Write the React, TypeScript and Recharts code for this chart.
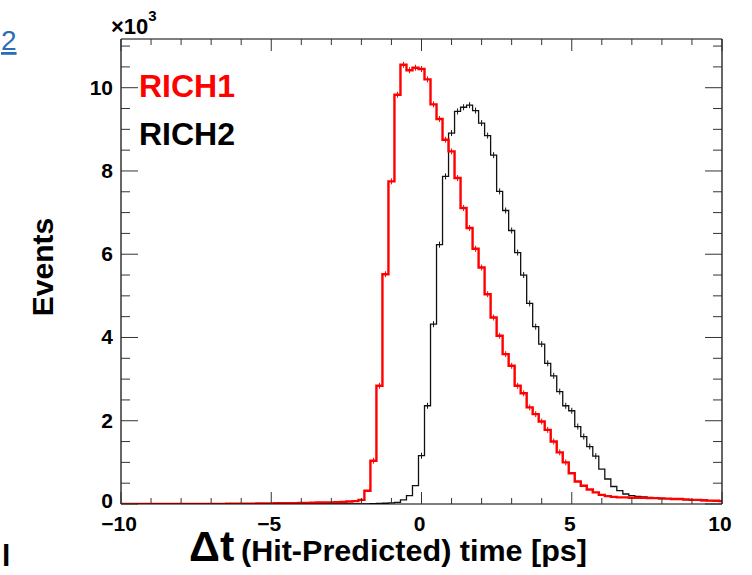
import React from 'react';
import { ComposedChart, Line, Scatter, XAxis, YAxis } from 'recharts';

// Histogram binning (bin lower edges start here, 0.2 ps wide)
const BIN_START = -10.1;
const BIN_WIDTH = 0.2;

// RICH1 counts per bin, in units of 10^3 events
const rich1Counts = [
  0, 0, 0, 0, 0, 0, 0, 0, 0, 0,
  0, 0, 0, 0, 0, 0, 0, 0, 0.005, 0.005,
  0.01, 0.01, 0.01, 0.012, 0.015, 0.015, 0.018, 0.02, 0.02, 0.022,
  0.025, 0.028, 0.03, 0.035, 0.04, 0.04, 0.045, 0.05, 0.06, 0.07,
  0.1, 0.32, 1.04, 2.84, 5.52, 7.75, 9.83, 10.55, 10.42, 10.48,
  10.45, 10.2, 9.6, 9.25, 8.75, 8.47, 7.83, 7.11, 6.63, 6.13,
  5.68, 5.04, 4.48, 4.04, 3.6, 3.32, 2.84, 2.66, 2.32, 2.16,
  1.98, 1.78, 1.5, 1.24, 1.0, 0.74, 0.54, 0.44, 0.35, 0.28,
  0.22, 0.19, 0.17, 0.16, 0.16, 0.15, 0.15, 0.15, 0.14, 0.14,
  0.13, 0.13, 0.12, 0.12, 0.11, 0.1, 0.1, 0.09, 0.08, 0.08, 0.07,
];

// RICH2 counts per bin, in units of 10^3 events
const rich2Counts = [
  0, 0, 0, 0, 0, 0, 0, 0, 0, 0,
  0, 0, 0, 0, 0, 0, 0, 0, 0, 0,
  0, 0, 0, 0, 0, 0, 0, 0, 0, 0,
  0, 0, 0, 0, 0, 0, 0, 0, 0, 0.002,
  0.003, 0.005, 0.008, 0.012, 0.018, 0.025, 0.04, 0.1, 0.2, 0.44,
  1.16, 2.36, 4.32, 6.23, 7.87, 8.91, 9.43, 9.53, 9.58, 9.45,
  9.15, 8.85, 8.38, 7.51, 7.05, 6.57, 6.04, 5.5, 4.82, 4.26,
  3.84, 3.38, 3.08, 2.7, 2.36, 2.24, 1.86, 1.62, 1.38, 1.15,
  0.84, 0.6, 0.42, 0.32, 0.24, 0.2, 0.18, 0.17, 0.16, 0.15,
  0.14, 0.13, 0.12, 0.11, 0.1, 0.1, 0.09, 0.08, 0.08, 0.07, 0.07,
];

const X_DOMAIN: [number, number] = [-10, 10];
const Y_DOMAIN: [number, number] = [0, 11.17];

const xTicks = [-10, -9, -8, -7, -6, -5, -4, -3, -2, -1, 0, 1, 2, 3, 4, 5, 6, 7, 8, 9, 10];
const xMajorTicks = [-10, -5, 0, 5, 10];
const xTickLabels: Record<string, string> = { '-10': '\u221210', '-5': '\u22125', '0': '0', '5': '5', '10': '10' };

const yTicks = [0, 0.5, 1, 1.5, 2, 2.5, 3, 3.5, 4, 4.5, 5, 5.5, 6, 6.5, 7, 7.5, 8, 8.5, 9, 9.5, 10, 10.5, 11];
const yMajorTicks = [0, 2, 4, 6, 8, 10];
const yTickLabels: Record<string, string> = { '0': '0', '2': '2', '4': '4', '6': '6', '8': '8', '10': '10' };

const seriesNames = ['RICH1', 'RICH2'];

const FONT = '"Liberation Sans", Arial, Helvetica, sans-serif';

const round1 = (v: number) => Math.round(v * 100) / 100;

function toSteps(vals: number[]) {
  const pts = vals.map((v, i) => ({ x: round1(BIN_START + i * BIN_WIDTH), y: v }));
  pts.push({ x: round1(BIN_START + vals.length * BIN_WIDTH), y: vals[vals.length - 1] });
  return pts;
}

function toCentres(vals: number[]) {
  return vals
    .map((v, i) => ({ x: round1(BIN_START + (i + 0.5) * BIN_WIDTH), y: v }))
    .filter((p) => p.y >= 1);
}

const rich1Steps = toSteps(rich1Counts);
const rich2Steps = toSteps(rich2Counts);
const rich1Centres = toCentres(rich1Counts);
const rich2Centres = toCentres(rich2Counts);

const TICK_COLOR = '#333';

const BottomTick = (p: any) => {
  const v = p.payload.value;
  const major = xMajorTicks.includes(v);
  return (
    <g>
      <line x1={p.x} x2={p.x} y1={p.y} y2={p.y - (major ? 12 : 6)} stroke={TICK_COLOR} strokeWidth={1} />
      {major && (
        <text x={p.x - 2} y={p.y + 27} textAnchor="middle" fontFamily={FONT} fontWeight="bold" fontSize={21} fill="#000">
          {xTickLabels[String(v)]}
        </text>
      )}
    </g>
  );
};

const TopTick = (p: any) => {
  const v = p.payload.value;
  const major = xMajorTicks.includes(v);
  return <line x1={p.x} x2={p.x} y1={p.y} y2={p.y + (major ? 12 : 6)} stroke={TICK_COLOR} strokeWidth={1} />;
};

const LeftTick = (p: any) => {
  const v = p.payload.value;
  const major = yMajorTicks.includes(v);
  return (
    <g>
      <line x1={p.x} x2={p.x + (major ? 17 : 9)} y1={p.y} y2={p.y} stroke={TICK_COLOR} strokeWidth={1} />
      {major && (
        <text x={p.x - 8} y={p.y + (v === 0 ? 4 : 7)} textAnchor="end" fontFamily={FONT} fontWeight="bold" fontSize={21} fill="#000">
          {yTickLabels[String(v)]}
        </text>
      )}
    </g>
  );
};

const RightTick = (p: any) => {
  const v = p.payload.value;
  const major = yMajorTicks.includes(v);
  return <line x1={p.x} x2={p.x - (major ? 17 : 9)} y1={p.y} y2={p.y} stroke={TICK_COLOR} strokeWidth={1} />;
};

const makeCross = (color: string) => (props: any) => {
  const { cx, cy } = props;
  if (cx == null || cy == null) return <g />;
  return <line x1={cx} x2={cx} y1={cy - 3} y2={cy + 3} stroke={color} strokeWidth={1} />;
};

export default function App() {
  return (
    <div style={{ position: 'absolute', left: 0, top: 0, width: 752, height: 575, background: '#fff' }}>
      <ComposedChart width={752} height={575} margin={{ top: 0, right: 0, bottom: 0, left: 0 }}>
        <XAxis
          xAxisId="b"
          type="number"
          dataKey="x"
          orientation="bottom"
          domain={X_DOMAIN}
          ticks={xTicks}
          interval={0}
          allowDataOverflow
          height={71}
          tickSize={0}
          tickMargin={0}
          tickLine={false}
          axisLine={{ stroke: '#000', strokeWidth: 1.2 }}
          tick={(p: any) => <BottomTick {...p} />}
        />
        <XAxis
          xAxisId="t"
          type="number"
          dataKey="x"
          orientation="top"
          domain={X_DOMAIN}
          ticks={xTicks}
          interval={0}
          allowDataOverflow
          height={39}
          tickSize={0}
          tickMargin={0}
          tickLine={false}
          axisLine={{ stroke: '#000', strokeWidth: 1.2 }}
          tick={(p: any) => <TopTick {...p} />}
        />
        <YAxis
          yAxisId="l"
          type="number"
          dataKey="y"
          orientation="left"
          domain={Y_DOMAIN}
          ticks={yTicks}
          interval={0}
          allowDataOverflow
          width={121}
          tickSize={0}
          tickMargin={0}
          tickLine={false}
          axisLine={{ stroke: '#000', strokeWidth: 1.2 }}
          tick={(p: any) => <LeftTick {...p} />}
        />
        <YAxis
          yAxisId="r"
          type="number"
          dataKey="y"
          orientation="right"
          domain={Y_DOMAIN}
          ticks={yTicks}
          interval={0}
          allowDataOverflow
          width={30}
          tickSize={0}
          tickMargin={0}
          tickLine={false}
          axisLine={{ stroke: '#000', strokeWidth: 1.2 }}
          tick={(p: any) => <RightTick {...p} />}
        />
        <Line
          name={seriesNames[1]}
          data={rich2Steps}
          xAxisId="b"
          yAxisId="l"
          dataKey="y"
          type="stepAfter"
          stroke="#111"
          strokeWidth={1.3}
          dot={false}
          activeDot={false}
          isAnimationActive={false}
        />
        <Scatter
          name={seriesNames[1] + ' err'}
          data={rich2Centres}
          xAxisId="b"
          yAxisId="l"
          shape={makeCross('#111')}
          isAnimationActive={false}
        />
        <Line
          name={seriesNames[0]}
          data={rich1Steps}
          xAxisId="t"
          yAxisId="r"
          dataKey="y"
          type="stepAfter"
          stroke="#ff0000"
          strokeWidth={2.4}
          dot={false}
          activeDot={false}
          isAnimationActive={false}
        />
        <Scatter
          name={seriesNames[0] + ' err'}
          data={rich1Centres}
          xAxisId="t"
          yAxisId="r"
          shape={makeCross('#ff0000')}
          isAnimationActive={false}
        />
      </ComposedChart>
      <svg
        width={752}
        height={575}
        style={{ position: 'absolute', left: 0, top: 0, pointerEvents: 'none' }}
      >
        <text x={1} y={50} fontFamily={FONT} fontSize={28} fontWeight={500} fill="#2b6cb8" textDecoration="underline">2</text>
        <text x={2} y={566} fontFamily={FONT} fontSize={30} fontWeight="bold" fill="#000">l</text>
        <text x={111} y={34} fontFamily={FONT} fontWeight="bold" fill="#000">
          <tspan fontSize={22}>{'\u00d710'}</tspan>
          <tspan fontSize={15} dy={-13}>3</tspan>
        </text>
        <text x={139} y={97} fontFamily={FONT} fontWeight="bold" fontSize={32} fill="#ff0000">{seriesNames[0]}</text>
        <text x={139} y={145} fontFamily={FONT} fontWeight="bold" fontSize={32} fill="#000">{seriesNames[1]}</text>
        <text
          transform="translate(53, 267) rotate(-90)"
          textAnchor="middle"
          fontFamily={FONT}
          fontWeight="bold"
          fontSize={30}
          fill="#000"
        >
          Events
        </text>
        <text x={189} y={561} fontFamily={FONT} fontWeight="bold" fontSize={43} fill="#000">{'\u0394t'}</text>
        <text
          x={241}
          y={561}
          fontFamily={FONT}
          fontWeight="bold"
          fontSize={30}
          fill="#000"
          textLength={346}
          lengthAdjust="spacingAndGlyphs"
        >
          (Hit-Predicted) time [ps]
        </text>
      </svg>
    </div>
  );
}
